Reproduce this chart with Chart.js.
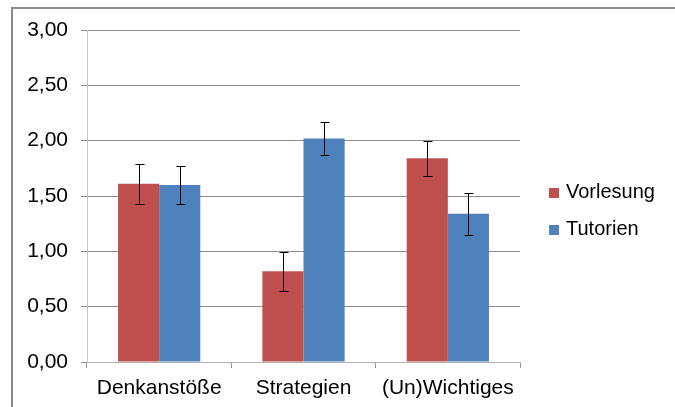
<!DOCTYPE html>
<html lang="de">
<head>
  <meta charset="UTF-8">
  <title>Vorlesung / Tutorien</title>
  <script src="https://cdn.jsdelivr.net/npm/chart.js"></script>
  <style>
    body { margin: 0; background: #fff; font-family: 'Liberation Sans', Arial, sans-serif; }
    #wrap { position: relative; width: 675px; height: 407px; overflow: hidden; }
    #frame {
      position: absolute; left: 11px; top: 7px; width: 700px; height: 450px;
      border-top: 2px solid #8a8a8a; border-left: 2px solid #8a8a8a;
      pointer-events: none;
    }
    .leg { position: absolute; left: 549px; height: 20px; line-height: 20px; font-size: 20px; color: #000; white-space: nowrap; }
    .leg i { display: inline-block; width: 10px; height: 10px; margin-right: 7px; vertical-align: baseline; }
  </style>
</head>
<body>
<div id="wrap">
  <canvas id="chart" width="675" height="407"></canvas>
  <div id="frame"></div>
  <div id="legend"></div>
</div>
<script>
  // data
  const categories = ["Denkanstöße", "Strategien", "(Un)Wichtiges"];
  const seriesNames = ["Vorlesung", "Tutorien"];
  const vorlesung = [1.61, 0.82, 1.84];
  const tutorien = [1.60, 2.02, 1.34];
  const errVorlesung = [0.18, 0.175, 0.16];
  const errTutorien = [0.17, 0.145, 0.19];
  const yTicks = [0, 0.5, 1, 1.5, 2, 2.5, 3];

  const colors = ["#C0504D", "#4F81BD"];
  const errors = [errVorlesung, errTutorien];
  const font = { family: "'Liberation Sans', Arial, sans-serif", size: 21 };

  const errorBars = {
    id: "errorBars",
    afterDatasetsDraw(chart) {
      const ctx = chart.ctx;
      const y = chart.scales.y;
      ctx.save();
      ctx.strokeStyle = "#000";
      ctx.lineWidth = 1;
      chart.data.datasets.forEach((ds, i) => {
        chart.getDatasetMeta(i).data.forEach((bar, j) => {
          const v = ds.data[j], e = errors[i][j];
          const x = Math.round(bar.x) + 0.5;
          const top = Math.round(y.getPixelForValue(v + e)) + 0.5;
          const bot = Math.round(y.getPixelForValue(v - e)) + 0.5;
          ctx.beginPath();
          ctx.moveTo(x, top); ctx.lineTo(x, bot);
          ctx.moveTo(x - 4, top); ctx.lineTo(x + 5, top);
          ctx.moveTo(x - 4, bot); ctx.lineTo(x + 5, bot);
          ctx.stroke();
        });
      });
      ctx.restore();
    }
  };

  new Chart(document.getElementById("chart"), {
    type: "bar",
    data: {
      labels: categories,
      datasets: [
        { label: seriesNames[0], data: vorlesung, backgroundColor: colors[0] },
        { label: seriesNames[1], data: tutorien, backgroundColor: colors[1] }
      ]
    },
    options: {
      responsive: false,
      animation: false,
      categoryPercentage: 0.57,
      barPercentage: 1.0,
      layout: { padding: { left: 12, top: 30, right: 155, bottom: 0 } },
      plugins: { legend: { display: false }, tooltip: { enabled: false } },
      scales: {
        x: {
          afterFit(s) { s.height = 45; },
          grid: { drawOnChartArea: false, offset: true, tickLength: 6, color: "#9a9a9a" },
          border: { color: "#b0b0b0" },
          ticks: { color: "#000", font: font, padding: 8, maxRotation: 0 }
        },
        y: {
          min: 0, max: 3,
          afterFit(s) { s.width = 75; },
          afterBuildTicks(s) { s.ticks = yTicks.map(v => ({ value: v })); },
          grid: {
            color: ctx => ctx.tick && ctx.tick.value === 0 ? "#b0b0b0" : "#8c8c8c",
            tickLength: 6, tickColor: "#8c8c8c"
          },
          border: { color: "#c4c4c4" },
          ticks: {
            color: "#000", font: font, padding: 13,
            callback: v => v.toFixed(2).replace(".", ",")
          }
        }
      }
    },
    plugins: [errorBars]
  });

  // legend as text, same order as the datasets
  const legend = document.getElementById("legend");
  seriesNames.forEach((name, i) => {
    const row = document.createElement("div");
    row.className = "leg";
    row.style.top = (181 + i * 37) + "px";
    row.innerHTML = '<i style="background:' + colors[i] + '"></i>' + name;
    legend.appendChild(row);
  });
</script>
</body>
</html>
